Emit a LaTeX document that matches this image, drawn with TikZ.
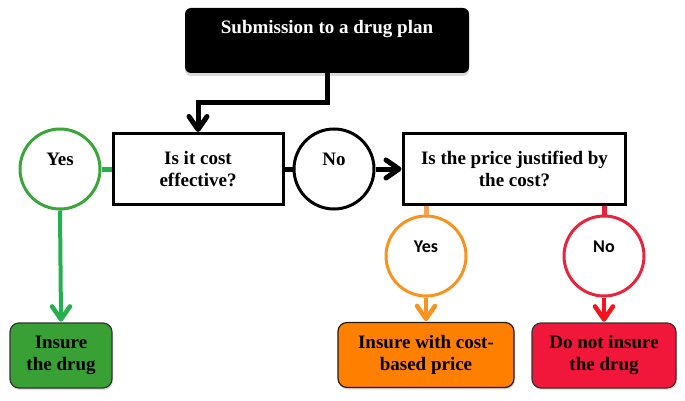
\documentclass[tikz,border=0pt]{standalone}
\usepackage{fontspec}
\setmainfont{Liberation Serif}
\newfontfamily\sansyn{Carlito}
\usetikzlibrary{arrows.meta,shadows}
\definecolor{gcirc}{HTML}{3BA53B}
\definecolor{garrow}{HTML}{25B04E}
\definecolor{gfill}{HTML}{39A035}
\definecolor{ocirc}{HTML}{F7931E}
\definecolor{oline}{HTML}{F5A15A}
\definecolor{ofill}{HTML}{FF8000}
\definecolor{rcirc}{HTML}{E8233E}
\definecolor{rarrow}{HTML}{F5141E}
\definecolor{rfill}{HTML}{F0173A}
\begin{document}
\begin{tikzpicture}[x=1pt,y=-1pt,
  every node/.style={font=\fontsize{19}{22}\selectfont\bfseries, align=center},
  softshadow/.style={drop shadow={shadow xshift=1pt,shadow yshift=-2pt,opacity=0.25}},
  qbox/.style={draw=black, line width=3pt, fill=white, minimum height=70pt, softshadow},
  ring/.style={circle, minimum size=80pt, inner sep=0pt, line width=3pt, fill=white},
  sansring/.style={ring, font=\sansyn\fontsize{18}{20}\selectfont\bfseries},
  endbox/.style={rounded corners=9pt, line width=1.2pt, minimum height=65pt, softshadow},
  blackline/.style={line width=5pt, black},
  chevron/.style={line join=round, line cap=round},
]
\useasboundingbox (0,0) rectangle (685,401);

% nodes
\node[fill=black, rounded corners=6pt, minimum width=284pt, minimum height=65pt, text=white,
      drop shadow={shadow xshift=0pt,shadow yshift=-3pt,opacity=0.3}]
  (sub) at (327,40.5) {\raisebox{7pt}[0pt][0pt]{Submission to a drug plan}};
\node[qbox, minimum width=170pt] (q1) at (198,169) {Is it cost\\effective?};
\node[qbox, minimum width=222pt] (q2) at (514.5,169) {Is the price justified by\\the cost?};

\node[ring, draw=gcirc] (cyes) at (60,169) {\raisebox{4pt}[0pt][0pt]{Yes}};
\node[ring, draw=black] (cno) at (334,169) {\raisebox{4pt}[0pt][0pt]{No}};
\node[sansring, draw=ocirc] (cy2) at (426,256) {\raisebox{4pt}[0pt][0pt]{Yes}};
\node[sansring, draw=rcirc] (cn2) at (604,256) {\raisebox{4pt}[0pt][0pt]{No}};

\node[endbox, draw=black!80, fill=gfill, minimum width=102pt] (bg) at (61,355.5) {Insure\\the drug};
\node[endbox, draw=black!80!brown, fill=ofill, minimum width=176pt] (bo) at (426,355) {Insure with cost-\\based price};
\node[endbox, draw=black!80, fill=rfill, minimum width=144pt] (br) at (604,355.5) {Do not insure\\the drug};

% tips of the arrows (just outside the target borders)
\coordinate (t1) at ([yshift=3pt]q1.north);
\coordinate (t2) at ([xshift=-3pt]q2.west);
\coordinate (t3) at ([yshift=3pt]bg.north);
\coordinate (t4) at ([yshift=3pt]bo.north);
\coordinate (t5) at ([yshift=3pt]br.north);

% connectors
\draw[blackline] (sub.south) -- ++(0,29) -| (t1);
\draw[blackline, chevron] ([shift={(-9,-13)}]t1) -- (t1) -- ([shift={(9,-13)}]t1);
\draw[blackline] (q1.east) -- (cno.west);
\draw[blackline] (cno.east) -- (t2);
\draw[blackline, chevron] ([shift={(-13,-9)}]t2) -- (t2) -- ([shift={(-13,9)}]t2);
\draw[line width=5pt, garrow] (cyes.east) -- (q1.west);
\draw[line width=4pt, garrow] (cyes.south) -- (t3);
\draw[line width=4.5pt, garrow, chevron] ([shift={(-9,-13)}]t3) -- (t3) -- ([shift={(9,-13)}]t3);
\draw[line width=5pt, oline] (q2.south -| cy2.north) -- (cy2.north);
\draw[line width=4pt, ocirc] (cy2.south) -- (t4);
\draw[line width=4.5pt, ocirc, chevron] ([shift={(-9,-13)}]t4) -- (t4) -- ([shift={(9,-13)}]t4);
\draw[line width=5pt, rcirc] (q2.south -| cn2.north) -- (cn2.north);
\draw[line width=4pt, rarrow] (cn2.south) -- (t5);
\draw[line width=4.5pt, rarrow, chevron] ([shift={(-9,-13)}]t5) -- (t5) -- ([shift={(9,-13)}]t5);
\end{tikzpicture}
\end{document}
